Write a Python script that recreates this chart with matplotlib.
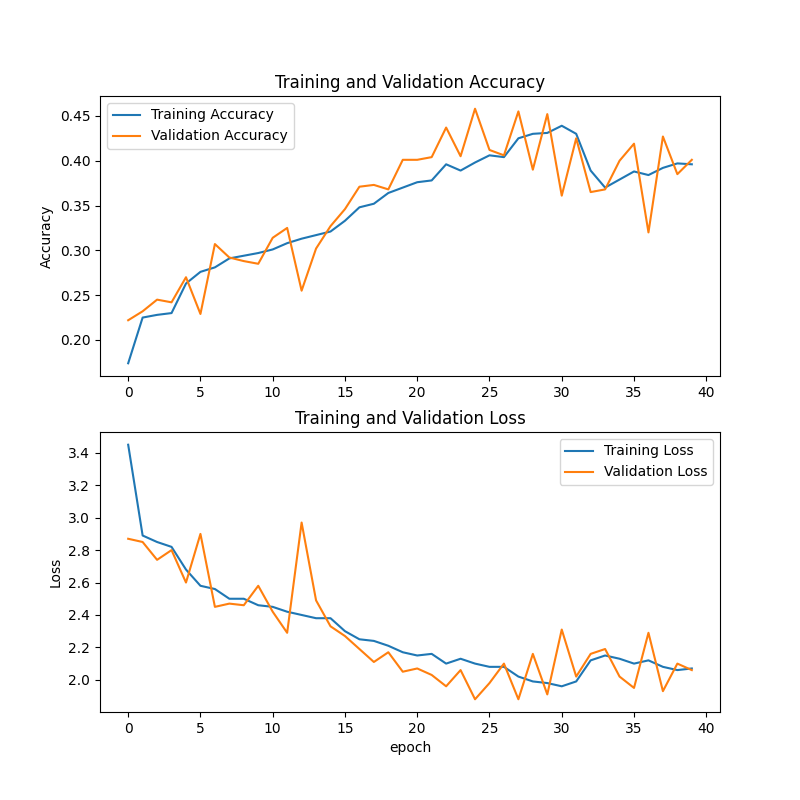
import matplotlib
matplotlib.use("Agg")
import matplotlib.pyplot as plt

train_acc = [0.174, 0.225, 0.228, 0.230, 0.263, 0.276, 0.281, 0.291, 0.294, 0.297,
             0.301, 0.308, 0.313, 0.317, 0.321, 0.333, 0.348, 0.352, 0.364, 0.370,
             0.376, 0.378, 0.396, 0.389, 0.398, 0.406, 0.404, 0.425, 0.430, 0.431,
             0.439, 0.430, 0.389, 0.370, 0.379, 0.388, 0.384, 0.392, 0.397, 0.396]
val_acc = [0.222, 0.232, 0.245, 0.242, 0.270, 0.229, 0.307, 0.292, 0.288, 0.285,
           0.314, 0.325, 0.255, 0.302, 0.327, 0.346, 0.371, 0.373, 0.368, 0.401,
           0.401, 0.404, 0.437, 0.405, 0.458, 0.412, 0.406, 0.455, 0.390, 0.452,
           0.361, 0.425, 0.365, 0.368, 0.400, 0.419, 0.320, 0.427, 0.385, 0.401]
train_loss = [3.45, 2.89, 2.85, 2.82, 2.68, 2.58, 2.56, 2.50, 2.50, 2.46,
              2.45, 2.42, 2.40, 2.38, 2.38, 2.30, 2.25, 2.24, 2.21, 2.17,
              2.15, 2.16, 2.10, 2.13, 2.10, 2.08, 2.08, 2.02, 1.99, 1.98,
              1.96, 1.99, 2.12, 2.15, 2.13, 2.10, 2.12, 2.08, 2.06, 2.07]
val_loss = [2.87, 2.85, 2.74, 2.80, 2.60, 2.90, 2.45, 2.47, 2.46, 2.58,
            2.42, 2.29, 2.97, 2.49, 2.33, 2.27, 2.19, 2.11, 2.17, 2.05,
            2.07, 2.03, 1.96, 2.06, 1.88, 1.98, 2.10, 1.88, 2.16, 1.91,
            2.31, 2.02, 2.16, 2.19, 2.02, 1.95, 2.29, 1.93, 2.10, 2.06]
epochs = range(len(train_acc))

plt.figure(figsize=(8, 8))
plt.subplot(2, 1, 1)
plt.plot(epochs, train_acc, label="Training Accuracy")
plt.plot(epochs, val_acc, label="Validation Accuracy")
plt.legend(loc="upper left")
plt.ylabel("Accuracy")
plt.title("Training and Validation Accuracy")

plt.subplot(2, 1, 2)
plt.plot(epochs, train_loss, label="Training Loss")
plt.plot(epochs, val_loss, label="Validation Loss")
plt.legend(loc="upper right")
plt.ylabel("Loss")
plt.title("Training and Validation Loss")
plt.xlabel("epoch")
plt.savefig("out.png", dpi=100)
